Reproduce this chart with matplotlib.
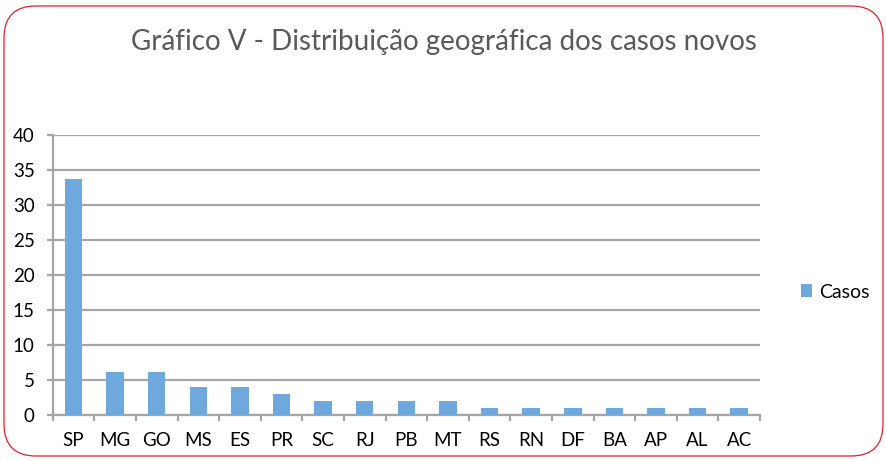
import matplotlib
matplotlib.use("Agg")
import matplotlib.pyplot as plt
from matplotlib.patches import FancyBboxPatch
from matplotlib.ticker import FixedLocator

estados = ["SP", "MG", "GO", "MS", "ES", "PR", "SC", "RJ", "PB", "MT",
           "RS", "RN", "DF", "BA", "AP", "AL", "AC"]
casos = [33.7, 6.2, 6.2, 4.0, 4.0, 3.0, 2.0, 2.0, 2.0, 2.0,
         1.0, 1.0, 1.0, 1.0, 1.0, 1.0, 1.0]
y_ticks = [0, 5, 10, 15, 20, 25, 30, 35, 40]
titulo = "Gráfico V - Distribuição geográfica dos casos novos"
serie = "Casos"

plt.rcParams['font.family'] = ['Lato', 'DejaVu Sans']

W, H = 887, 461
fig = plt.figure(figsize=(W / 100, H / 100), dpi=100)
fig.patch.set_facecolor("white")

# rounded red border
border = FancyBboxPatch((4 / W, 5 / H), (W - 8) / W, (H - 11) / H,
                        boxstyle="round,pad=0,rounding_size=0.036",
                        transform=fig.transFigure, fill=False,
                        edgecolor="#E0202A", linewidth=0.9,
                        mutation_aspect=W / H)
fig.patches.append(border)

ax = fig.add_axes([52.7 / W, 1 - 415 / H, (760 - 52.7) / W, (415 - 135) / H])
x = list(range(len(estados)))
ax.bar(x, casos, width=0.42, color="#6FA8DC", label=serie, zorder=3)

ax.set_xlim(-0.5, len(estados) - 0.5)
ax.set_ylim(0, 40)
ax.set_yticks(y_ticks)
ax.set_xticks(x)
ax.set_xticklabels(estados)
ax.xaxis.set_minor_locator(FixedLocator([i - 0.5 for i in range(len(estados) + 1)]))

grid_c = "#A6A6A6"
ax.grid(axis="y", color=grid_c, linewidth=1.6, zorder=0)
for s in ["top", "right"]:
    ax.spines[s].set_visible(False)
for s in ["left", "bottom"]:
    ax.spines[s].set_color(grid_c)
    ax.spines[s].set_linewidth(1.6)

ax.tick_params(axis="x", which="major", length=0, pad=12.5, labelsize=13.5,
               labelcolor="#000000")
ax.tick_params(axis="x", which="minor", length=4.5, width=1.6, color=grid_c,
               direction="out")
ax.tick_params(axis="y", length=4.5, width=1.6, color=grid_c, pad=8.5,
               labelsize=13.5, labelcolor="#000000")

fig.text(0.5, 1 - 50 / H, titulo, ha="center", va="baseline",
         fontsize=20, color="#595959")

ax.legend(loc="center left", bbox_to_anchor=(791 / W, 1 - 292 / H),
          bbox_transform=fig.transFigure, frameon=False,
          handlelength=0.6, handleheight=0.6, handletextpad=0.35,
          borderpad=0, fontsize=14)

fig.savefig("out.png", dpi=100, facecolor="white")
